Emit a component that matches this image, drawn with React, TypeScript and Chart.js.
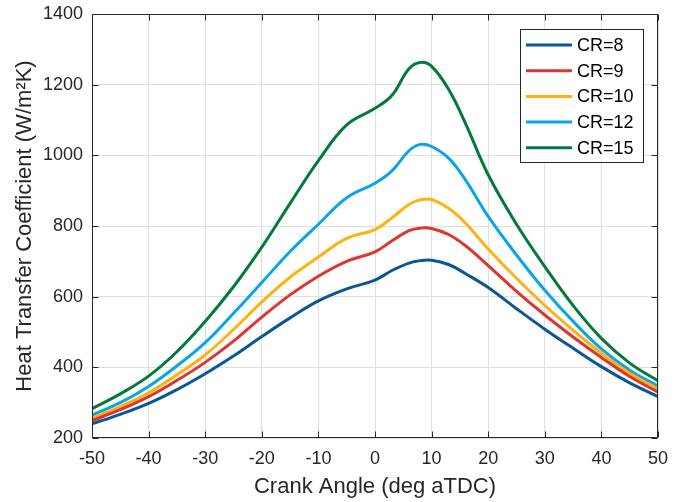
import React, { useEffect, useRef } from 'react';
import { Chart, registerables } from 'chart.js';

Chart.register(...registerables);

// ---- data ----
const crankAngles = [-50, -45, -40, -35, -30, -25, -20, -15, -10, -5, 0, 3, 6, 8, 10, 13, 16, 20, 25, 30, 35, 40, 45, 50];
const cr8 = [240, 267, 298, 337, 382, 432, 487, 540, 588, 622, 647, 674, 695, 702, 703, 691, 665, 626, 566, 508, 454, 402, 356, 317];
const cr9 = [249, 280, 317, 363, 414, 474, 542, 605, 658, 700, 727, 758, 787, 794, 793, 776, 744, 688, 615, 548, 486, 428, 374, 330];
const cr10 = [256, 289, 328, 379, 435, 507, 585, 655, 712, 765, 790, 823, 861, 874, 875, 850, 808, 735, 652, 575, 505, 440, 383, 339];
const cr12 = [265, 300, 346, 404, 470, 553, 640, 728, 805, 880, 921, 956, 1013, 1031, 1025, 992, 930, 827, 718, 618, 530, 452, 392, 347];
const cr15 = [283, 325, 375, 444, 530, 628, 740, 864, 985, 1086, 1133, 1170, 1245, 1263, 1252, 1187, 1090, 945, 805, 685, 575, 482, 412, 362];

const seriesLabels = ['CR=8', 'CR=9', 'CR=10', 'CR=12', 'CR=15'];
const seriesValues = [cr8, cr9, cr10, cr12, cr15];
const seriesColors = ['#0B5697', '#DD3530', '#FFB20F', '#0AA5E6', '#037A3C'];

const xTickMin = -50;
const xTickMax = 50;
const xTickStep = 10;
const yTickMin = 200;
const yTickMax = 1400;
const yTickStep = 200;

const xTitle = 'Crank Angle (deg aTDC)';
const yTitle = 'Heat Transfer Coefficient (W/m\u00B2K)';

const FONT = '"Liberation Sans", Arial, Helvetica, sans-serif';
const AXIS_COLOR = '#262626';

const framePlugin = {
  id: 'matlabFrame',
  afterDatasetsDraw(chart: any) {
    const { ctx, chartArea: a, scales } = chart;
    const L = Math.round(a.left) + 0.5;
    const R = Math.round(a.right) - 0.5;
    const T = Math.round(a.top) + 0.5;
    const B = Math.round(a.bottom) - 0.5;
    const tl = 6;
    ctx.save();
    ctx.strokeStyle = AXIS_COLOR;
    ctx.lineWidth = 1;
    ctx.beginPath();
    ctx.rect(L, T, R - L, B - T);
    ctx.stroke();
    ctx.beginPath();
    scales.x.ticks.forEach((t: any) => {
      const px = Math.round(scales.x.getPixelForValue(t.value)) + 0.5;
      ctx.moveTo(px, B);
      ctx.lineTo(px, B - tl);
      ctx.moveTo(px, T);
      ctx.lineTo(px, T + tl);
    });
    scales.y.ticks.forEach((t: any) => {
      const py = Math.round(scales.y.getPixelForValue(t.value)) + 0.5;
      ctx.moveTo(L, py);
      ctx.lineTo(L + tl, py);
      ctx.moveTo(R, py);
      ctx.lineTo(R - tl, py);
    });
    ctx.stroke();
    ctx.restore();
  },
};

const legendPlugin = {
  id: 'insideLegend',
  afterDraw(chart: any) {
    const { ctx, chartArea: a } = chart;
    const boxW = 123;
    const boxH = 133;
    const left = Math.round(a.right - 15 - boxW);
    const top = Math.round(a.top + 15);
    ctx.save();
    ctx.fillStyle = '#ffffff';
    ctx.fillRect(left, top, boxW, boxH);
    ctx.strokeStyle = AXIS_COLOR;
    ctx.lineWidth = 1;
    ctx.strokeRect(left + 0.5, top + 0.5, boxW, boxH);
    ctx.font = '18px ' + FONT;
    ctx.textBaseline = 'middle';
    ctx.textAlign = 'left';
    chart.data.datasets.forEach((ds: any, i: number) => {
      const y = top + 16 + i * 25.7;
      ctx.strokeStyle = ds.borderColor;
      ctx.lineWidth = 3;
      ctx.beginPath();
      ctx.moveTo(left + 6, y);
      ctx.lineTo(left + 52, y);
      ctx.stroke();
      ctx.fillStyle = '#000000';
      ctx.fillText(ds.label, left + 57, y + 1);
    });
    ctx.restore();
  },
};

export default function App() {
  const canvasRef = useRef<HTMLCanvasElement | null>(null);

  useEffect(() => {
    if (!canvasRef.current) return;
    const datasets = seriesLabels.map((label, i) => ({
      label,
      data: crankAngles.map((x, j) => ({ x, y: seriesValues[i][j] })),
      borderColor: seriesColors[i],
      backgroundColor: seriesColors[i],
      borderWidth: 3,
      pointRadius: 0,
      fill: false,
      tension: 0.4,
    }));

    const chart = new Chart(canvasRef.current, {
      type: 'line',
      data: { datasets },
      options: {
        animation: false,
        responsive: false,
        maintainAspectRatio: false,
        layout: { padding: { top: 14, right: 24, left: 0, bottom: 0 } },
        plugins: {
          legend: { display: false },
          tooltip: { enabled: false },
        },
        scales: {
          x: {
            type: 'linear',
            min: xTickMin,
            max: xTickMax,
            border: { display: false },
            grid: { color: '#DFDFDF', lineWidth: 1, drawTicks: false },
            ticks: {
              stepSize: xTickStep,
              autoSkip: false,
              maxRotation: 0,
              padding: 10,
              color: AXIS_COLOR,
              font: { family: FONT, size: 18, lineHeight: 1.2 },
              callback: (v: any) => String(v),
            },
            title: {
              display: true,
              text: xTitle,
              color: AXIS_COLOR,
              font: { family: FONT, size: 22, lineHeight: 1.2 },
              padding: { top: 0, bottom: 2 },
            },
            afterFit: (s: any) => {
              s.height = 64;
              s.paddingLeft = 0;
              s.paddingRight = 0;
            },
          },
          y: {
            type: 'linear',
            min: yTickMin,
            max: yTickMax,
            border: { display: false },
            grid: { color: '#DFDFDF', lineWidth: 1, drawTicks: false },
            ticks: {
              stepSize: yTickStep,
              autoSkip: false,
              padding: 9,
              color: AXIS_COLOR,
              font: { family: FONT, size: 18, lineHeight: 1.2 },
              callback: (v: any) => String(v),
            },
            title: {
              display: true,
              text: yTitle,
              color: AXIS_COLOR,
              font: { family: FONT, size: 22, lineHeight: 1.2 },
              padding: { top: 12, bottom: 0 },
            },
            afterFit: (s: any) => {
              s.width = 92;
              s.paddingTop = 0;
              s.paddingBottom = 0;
            },
          },
        },
      },
      plugins: [framePlugin, legendPlugin],
    });
    return () => chart.destroy();
  }, []);

  return (
    <div style={{ position: 'fixed', left: 0, top: 0, width: 682, height: 502, background: '#ffffff' }}>
      <canvas ref={canvasRef} width={682} height={502} style={{ width: 682, height: 502, display: 'block' }} />
    </div>
  );
}
